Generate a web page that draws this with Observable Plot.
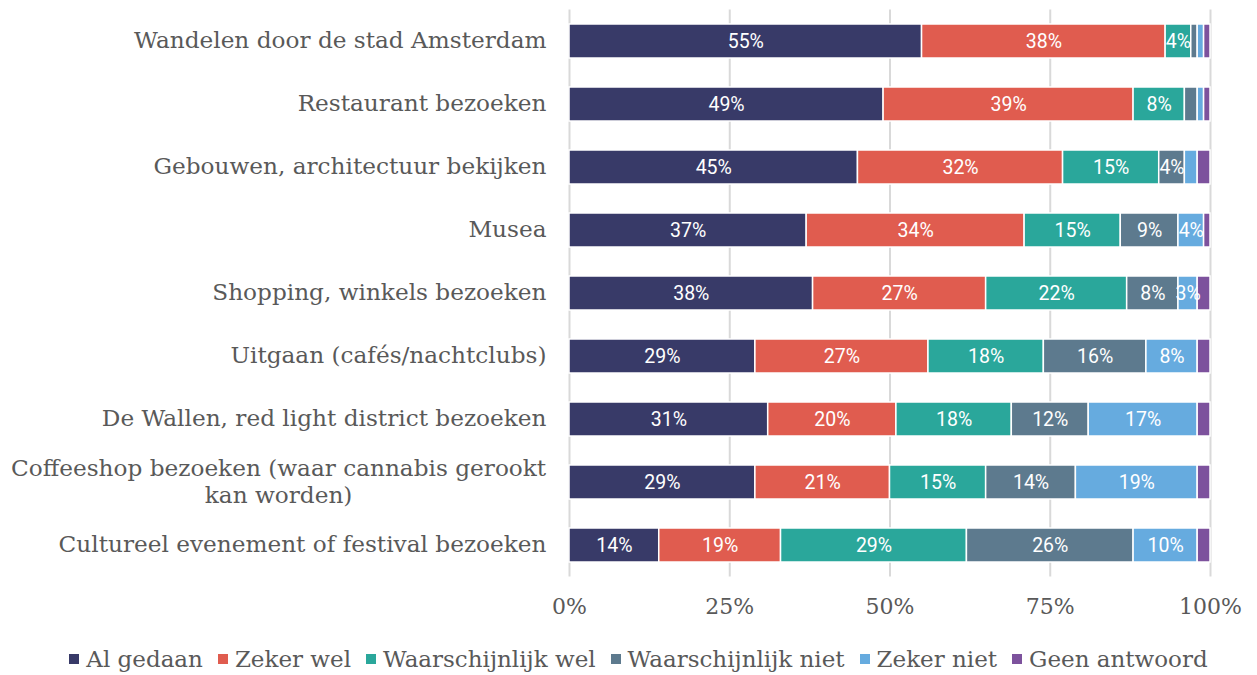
<!DOCTYPE html>
<html>
<head>
<meta charset="utf-8">
<script src="https://cdn.jsdelivr.net/npm/d3@7"></script>
<script src="https://cdn.jsdelivr.net/npm/@observablehq/plot@0.6"></script>
<style>
  body { margin: 0; background: #fff; }
  #legend { display: flex; justify-content: center; gap: 15px; font-family: "DejaVu Serif", serif; font-size: 23px; color: #595959; margin-top: 11px; margin-left: 20px; }
  #legend span.item { display: inline-flex; align-items: center; }
  #legend span.sw { display: inline-block; width: 10px; height: 10px; margin-right: 7px; }
</style>
</head>
<body>
<div id="chart"></div>
<div id="legend"></div>
<script>
const categories = [
  "Wandelen door de stad Amsterdam",
  "Restaurant bezoeken",
  "Gebouwen, architectuur bekijken",
  "Musea",
  "Shopping, winkels bezoeken",
  "Uitgaan (cafés/nachtclubs)",
  "De Wallen, red light district bezoeken",
  "Coffeeshop bezoeken (waar cannabis gerookt\nkan worden)",
  "Cultureel evenement of festival bezoeken"
];
const series = ["Al gedaan", "Zeker wel", "Waarschijnlijk wel", "Waarschijnlijk niet", "Zeker niet", "Geen antwoord"];
const colors = ["#383a68", "#e05c4f", "#2aa79b", "#5d7a8e", "#66abdf", "#7d529d"];
const alGedaan = [55, 49, 45, 37, 38, 29, 31, 29, 14];
const zekerWel = [38, 39, 32, 34, 27, 27, 20, 21, 19];
const waarschijnlijkWel = [4, 8, 15, 15, 22, 18, 18, 15, 29];
const waarschijnlijkNiet = [1, 2, 4, 9, 8, 16, 12, 14, 26];
const zekerNiet = [1, 1, 2, 4, 3, 8, 17, 19, 10];
const geenAntwoord = [1, 1, 2, 1, 2, 2, 2, 2, 2];
const xTicks = [0, 25, 50, 75, 100];

const seriesValues = [alGedaan, zekerWel, waarschijnlijkWel, waarschijnlijkNiet, zekerNiet, geenAntwoord];
const data = [];
categories.forEach((c, i) => {
  series.forEach((s, j) => data.push({category: c, series: s, value: seriesValues[j][i]}));
});

const serif = "DejaVu Serif, serif";
const plot = Plot.plot({
  width: 1257,
  height: 635,
  marginLeft: 569,
  marginRight: 47,
  marginTop: 9.5,
  marginBottom: 58.5,
  style: {fontFamily: serif, color: "#595959", background: "#fff"},
  x: {domain: [0, 100]},
  y: {domain: categories, paddingInner: 0.46, paddingOuter: 0.23},
  color: {domain: series, range: colors},
  marks: [
    Plot.gridX(xTicks, {stroke: "#d9d9d9", strokeOpacity: 1, strokeWidth: 2}),
    Plot.barX(data, Plot.stackX({x: "value", y: "category", fill: "series", stroke: "#fff", strokeWidth: 1.5})),
    Plot.text(data, Plot.stackX({
      x: "value", y: "category", z: "series",
      text: d => d.value >= 3 ? d.value + "%" : null,
      fill: "#fff", fontFamily: "Roboto, sans-serif", fontSize: 19.5
    })),
    Plot.axisX(xTicks, {tickSize: 0, tickPadding: 21, tickFormat: d => d + "%", fontSize: 22, fill: "#595959", label: null}),
    Plot.axisY({tickSize: 0, tickPadding: 23, fontSize: 23.2, fill: "#595959", label: null, lineHeight: 1.2, dy: -2})
  ]
});
document.getElementById("chart").appendChild(plot);

// center multi-line y labels as a block (like the original)
plot.querySelectorAll("[aria-label='y-axis tick label'] text").forEach(t => {
  const spans = t.querySelectorAll("tspan");
  if (spans.length > 1) {
    const w = t.getBBox().width;
    t.setAttribute("text-anchor", "middle");
    spans.forEach(s => s.setAttribute("x", -w / 2));
  }
});

const legend = document.getElementById("legend");
series.forEach((s, j) => {
  const item = document.createElement("span");
  item.className = "item";
  item.innerHTML = `<span class="sw" style="background:${colors[j]}"></span>${s}`;
  legend.appendChild(item);
});
</script>
</body>
</html>
